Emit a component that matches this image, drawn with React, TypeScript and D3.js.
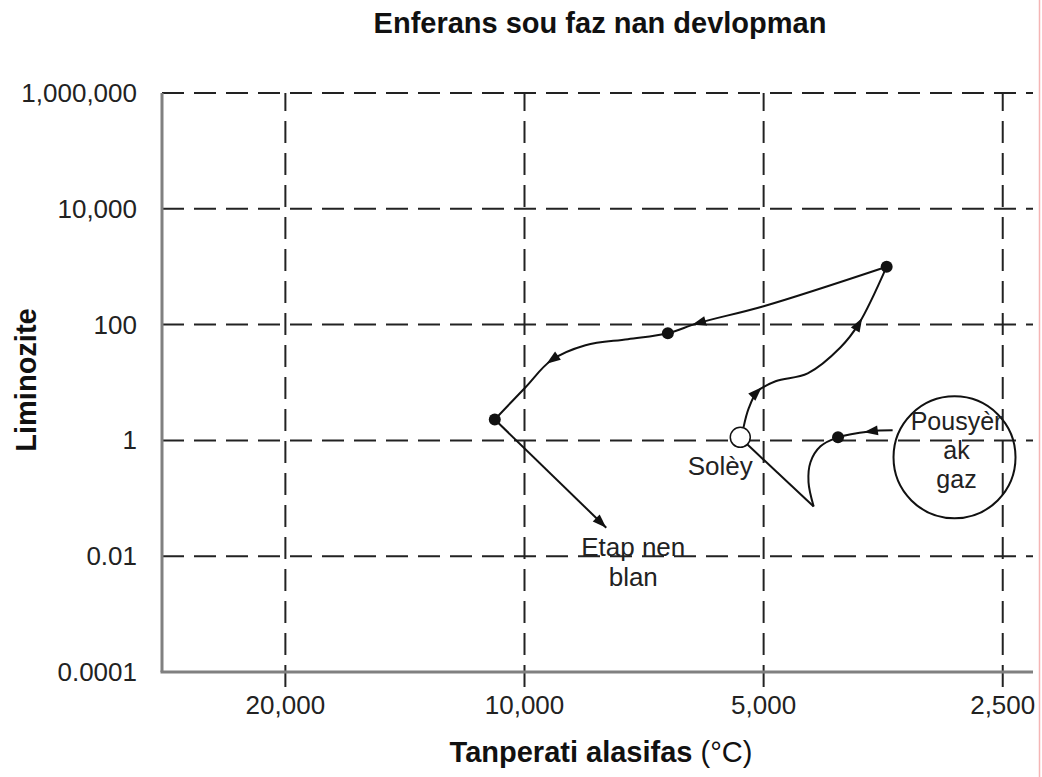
import React, { useEffect, useRef } from "react";
import * as d3 from "d3";

const chartTitle = "Enferans sou faz nan devlopman";
const xTitle = "Tanperati alasifas";
const xUnit = "(°C)";
const yTitle = "Liminozite";

const tempTicks = [20000, 10000, 5000, 2500];
const tempTickLabels = ["20,000", "10,000", "5,000", "2,500"];
const lumTicks = [1e6, 1e4, 100, 1, 0.01, 0.0001];
const lumTickLabels = ["1,000,000", "10,000", "100", "1", "0.01", "0.0001"];

// points are [temperature, luminosity]
const cloudToSun = [[3440, 1.49], [3675, 1.43], [4030, 1.13], [4240, 0.79], [4365, 0.42], [4390, 0.19], [4325, 0.072]];
const cuspToSun = [[4325, 0.072], [5240, 0.85]];
const sunToGiant = [[5300, 1.68], [5220, 3.6], [5090, 7.0], [4830, 10.5], [4400, 14.4], [4000, 40.6], [3790, 106], [3500, 1000]];
const giantToDwarf = [[3500, 1000], [5000, 208], [6050, 106], [6600, 71], [7410, 56], [8380, 44], [9250, 24.2], [9970, 8.3], [10900, 2.3]];
const dwarfStage = [[10900, 2.3], [7890, 0.031]];

const stageDots = [[3500, 1000], [6600, 71], [10900, 2.3], [4030, 1.13]];
const sunPoint = [5350, 1.13];
const cloudPoint = [2875, 0.51];

const sunLabel = "Solèy";
const dwarfLabel = ["Etap nen", "blan"];
const cloudLabel = ["Pousyèr", "ak", "gaz"];

// arrowheads: which path, which vertex
const arrows = [
  { path: cloudToSun, i: 1 },
  { path: sunToGiant, i: 2 },
  { path: sunToGiant, i: 6 },
  { path: giantToDwarf, i: 2 },
  { path: giantToDwarf, i: 6 },
  { path: dwarfStage, i: 1 },
];

const W = 1042;
const H = 777;
const font = "'Liberation Sans', Arial, sans-serif";

export default function App() {
  const svgRef = useRef(null);

  useEffect(() => {
    const svg = d3.select(svgRef.current);
    svg.selectAll("*").remove();

    const left = 162, right = 1033, top = 93, bottom = 672;
    const x = d3.scaleLog().domain([28600, 2290]).range([left, right]);
    const y = d3.scaleLog().domain([1e-4, 1e6]).range([bottom, top]);

    svg.append("rect").attr("width", W).attr("height", H).attr("fill", "#fff");

    // grid
    svg.selectAll(".hgrid")
      .data(lumTicks.slice(0, 5))
      .join("line")
      .attr("x1", left).attr("x2", right)
      .attr("y1", (d) => y(d)).attr("y2", (d) => y(d))
      .attr("stroke", "#222").attr("stroke-width", 2)
      .attr("stroke-dasharray", "22 10");

    svg.selectAll(".vgrid")
      .data(tempTicks)
      .join("line")
      .attr("x1", (d) => x(d)).attr("x2", (d) => x(d))
      .attr("y1", bottom + 15).attr("y2", top)
      .attr("stroke", "#222").attr("stroke-width", 2)
      .attr("stroke-dasharray", "22 10");

    // axes
    svg.append("line")
      .attr("x1", left).attr("x2", left).attr("y1", top).attr("y2", bottom)
      .attr("stroke", "#808080").attr("stroke-width", 3);
    svg.append("line")
      .attr("x1", left - 1.5).attr("x2", right).attr("y1", bottom).attr("y2", bottom)
      .attr("stroke", "#808080").attr("stroke-width", 3);

    // tick labels
    svg.selectAll(".ylab")
      .data(lumTicks)
      .join("text")
      .attr("x", 137).attr("y", (d) => y(d) + 9)
      .attr("text-anchor", "end")
      .attr("font-family", font).attr("font-size", 26).attr("fill", "#222")
      .text((d, i) => lumTickLabels[i]);

    svg.selectAll(".xlab")
      .data(tempTicks)
      .join("text")
      .attr("x", (d) => x(d)).attr("y", 714)
      .attr("text-anchor", "middle")
      .attr("font-family", font).attr("font-size", 26).attr("fill", "#222")
      .text((d, i) => tempTickLabels[i]);

    // titles
    svg.append("text")
      .attr("x", 600).attr("y", 33)
      .attr("text-anchor", "middle")
      .attr("font-family", font).attr("font-size", 29).attr("font-weight", "bold").attr("fill", "#111")
      .text(chartTitle);

    const xt = svg.append("text")
      .attr("x", 601).attr("y", 762)
      .attr("text-anchor", "middle")
      .attr("font-family", font).attr("font-size", 29).attr("fill", "#111");
    xt.append("tspan").attr("font-weight", "bold").text(xTitle + " ");
    xt.append("tspan").text(xUnit);

    svg.append("text")
      .attr("transform", "translate(36,380) rotate(-90)")
      .attr("text-anchor", "middle")
      .attr("font-family", font).attr("font-size", 29).attr("font-weight", "bold").attr("fill", "#111")
      .text(yTitle);

    // evolution paths
    const line = d3.line()
      .x((d) => x(d[0]))
      .y((d) => y(d[1]))
      .curve(d3.curveCatmullRom.alpha(0.5));

    [cloudToSun, cuspToSun, sunToGiant, giantToDwarf, dwarfStage].forEach((p) => {
      svg.append("path")
        .attr("d", line(p))
        .attr("fill", "none")
        .attr("stroke", "#111")
        .attr("stroke-width", 2);
    });

    // arrowheads
    arrows.forEach(({ path, i }) => {
      const a = path[Math.max(i - 1, 0)];
      const b = path[Math.min(i + 1, path.length - 1)];
      const dx = x(b[0]) - x(a[0]);
      const dy = y(b[1]) - y(a[1]);
      const len = Math.hypot(dx, dy);
      const ux = dx / len, uy = dy / len;
      const px = x(path[i][0]), py = y(path[i][1]);
      const isEnd = i === path.length - 1;
      const tx = px + (isEnd ? 0 : 6 * ux);
      const ty = py + (isEnd ? 0 : 6 * uy);
      const bx = tx - 14 * ux, by = ty - 14 * uy;
      const pts = [
        [tx, ty],
        [bx - 5 * uy, by + 5 * ux],
        [bx + 5 * uy, by - 5 * ux],
      ];
      svg.append("polygon")
        .attr("points", pts.map((q) => q.join(",")).join(" "))
        .attr("fill", "#111");
    });

    // dust cloud
    svg.append("circle")
      .attr("cx", x(cloudPoint[0])).attr("cy", y(cloudPoint[1])).attr("r", 61)
      .attr("fill", "none").attr("stroke", "#111").attr("stroke-width", 2);

    // stage dots
    svg.selectAll(".dot")
      .data(stageDots)
      .join("circle")
      .attr("cx", (d) => x(d[0])).attr("cy", (d) => y(d[1])).attr("r", 6)
      .attr("fill", "#111");

    // sun
    svg.append("circle")
      .attr("cx", x(sunPoint[0])).attr("cy", y(sunPoint[1])).attr("r", 10)
      .attr("fill", "#fff").attr("stroke", "#111").attr("stroke-width", 1.5);

    // labels
    svg.append("text")
      .attr("x", x(sunPoint[0]) - 20).attr("y", y(sunPoint[1]) + 38)
      .attr("text-anchor", "middle")
      .attr("font-family", font).attr("font-size", 26).attr("fill", "#222")
      .text(sunLabel);

    const end = dwarfStage[dwarfStage.length - 1];
    svg.selectAll(".dwlab")
      .data(dwarfLabel)
      .join("text")
      .attr("x", x(end[0]) + 27).attr("y", (d, i) => y(end[1]) + 28 + i * 30)
      .attr("text-anchor", "middle")
      .attr("font-family", font).attr("font-size", 26).attr("fill", "#222")
      .text((d) => d);

    svg.selectAll(".cllab")
      .data(cloudLabel)
      .join("text")
      .attr("x", x(cloudPoint[0]) + 2).attr("y", (d, i) => y(cloudPoint[1]) - 27 + i * 29)
      .attr("text-anchor", "middle")
      .attr("font-family", font).attr("font-size", 25).attr("fill", "#222")
      .text((d) => d);

    // faint edge line at right of the picture
    svg.append("line")
      .attr("x1", 1039.5).attr("x2", 1039.5).attr("y1", 0).attr("y2", H)
      .attr("stroke", "#f5b5b5").attr("stroke-width", 1.5);
  }, []);

  return (
    <svg
      ref={svgRef}
      width={W}
      height={H}
      style={{ position: "absolute", left: 0, top: 0 }}
    />
  );
}
